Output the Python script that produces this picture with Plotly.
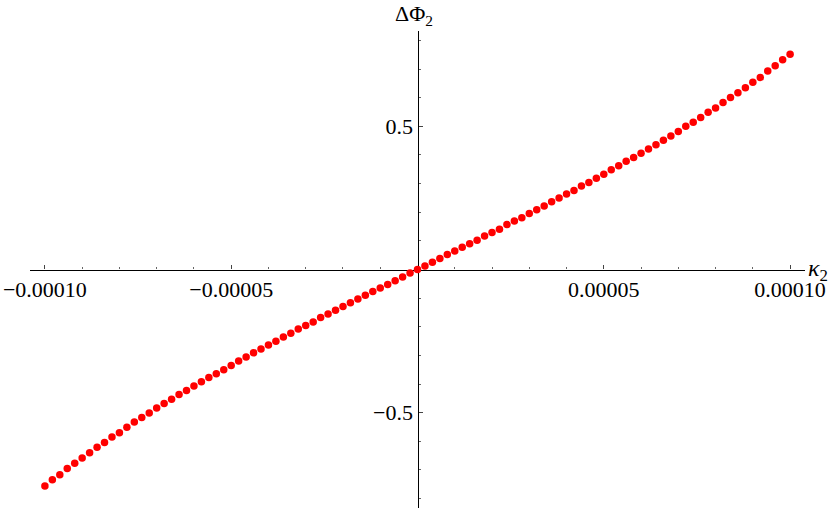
import plotly.graph_objects as go

# kappa_2 sample values in units of 1e-6
kappa_micro = [-100, -98, -96, -94, -92, -90, -88, -86, -84, -82,
               -80, -78, -76, -74, -72, -70, -68, -66, -64, -62,
               -60, -58, -56, -54, -52, -50, -48, -46, -44, -42,
               -40, -38, -36, -34, -32, -30, -28, -26, -24, -22,
               -20, -18, -16, -14, -12, -10, -8, -6, -4, -2,
               0, 2, 4, 6, 8, 10, 12, 14, 16, 18,
               20, 22, 24, 26, 28, 30, 32, 34, 36, 38,
               40, 42, 44, 46, 48, 50, 52, 54, 56, 58,
               60, 62, 64, 66, 68, 70, 72, 74, 76, 78,
               80, 82, 84, 86, 88, 90, 92, 94, 96, 98, 100]
kappa2 = [k * 1e-6 for k in kappa_micro]

delta_phi2 = [-0.756, -0.734, -0.717, -0.695, -0.677, -0.658, -0.640, -0.621, -0.604, -0.585,
              -0.570, -0.551, -0.533, -0.517, -0.501, -0.484, -0.468, -0.453, -0.437, -0.423,
              -0.407, -0.392, -0.377, -0.364, -0.350, -0.335, -0.320, -0.306, -0.291, -0.278,
              -0.264, -0.251, -0.236, -0.223, -0.208, -0.196, -0.183, -0.168, -0.155, -0.142,
              -0.129, -0.116, -0.103, -0.090, -0.077, -0.065, -0.052, -0.039, -0.026, -0.012,
              0.000, 0.012, 0.025, 0.038, 0.052, 0.065, 0.078, 0.090, 0.102, 0.117,
              0.129, 0.141, 0.157, 0.169, 0.181, 0.196, 0.209, 0.222, 0.237, 0.250,
              0.264, 0.276, 0.292, 0.304, 0.319, 0.333, 0.348, 0.362, 0.378, 0.391,
              0.406, 0.421, 0.436, 0.451, 0.466, 0.482, 0.500, 0.514, 0.531, 0.549,
              0.564, 0.583, 0.601, 0.617, 0.635, 0.654, 0.671, 0.693, 0.712, 0.733, 0.752]

x_tickvals = [-0.0001, -0.00005, 0.00005, 0.0001]
x_ticktext = ["\u22120.00010", "\u22120.00005", "0.00005", "0.00010"]
y_tickvals = [-0.5, 0.5]
y_ticktext = ["\u22120.5", "0.5"]

FONT = "Liberation Serif, Times New Roman, serif"
FS = 22

fig = go.Figure()
fig.add_trace(go.Scatter(
    x=kappa2, y=delta_phi2, mode="markers",
    marker=dict(color="#ff0000", size=7.5, line=dict(width=0)),
    showlegend=False, hoverinfo="skip", cliponaxis=False,
))

fig.update_layout(
    width=830, height=512,
    margin=dict(l=30, r=25, t=31, b=4, autoexpand=False),
    paper_bgcolor="white", plot_bgcolor="white",
    font=dict(family=FONT, size=FS, color="black"),
    xaxis=dict(
        range=[-1.04e-4, 1.04e-4], automargin=False,
        anchor="free", position=0.5, side="bottom",
        showline=True, linecolor="black", linewidth=1.2,
        showgrid=False, zeroline=False,
        ticks="inside", ticklen=4, tickwidth=1, tickcolor="#444",
        tickvals=x_tickvals, ticktext=x_ticktext,
        minor=dict(ticks="inside", ticklen=2.5, tickwidth=1, tickcolor="#666",
                   dtick=1e-5, tick0=0, showgrid=False),
        tickfont=dict(family=FONT, size=FS, color="black"),
        layer="below traces",
    ),
    yaxis=dict(
        range=[-0.833, 0.833], automargin=False,
        anchor="free", position=0.5, side="left",
        showline=True, linecolor="black", linewidth=1.2,
        showgrid=False, zeroline=False,
        ticks="inside", ticklen=4, tickwidth=1, tickcolor="#444",
        tickvals=y_tickvals, ticktext=y_ticktext,
        minor=dict(ticks="inside", ticklen=2.5, tickwidth=1, tickcolor="#666",
                   dtick=0.1, tick0=0, showgrid=False),
        tickfont=dict(family=FONT, size=FS, color="black"),
        layer="below traces",
    ),
    annotations=[
        dict(text="\u0394\u03a6<sub>2</sub>", x=0, xref="x", y=1, yref="paper",
             xanchor="center", yanchor="bottom", showarrow=False, xshift=-4, yshift=0,
             font=dict(family=FONT, size=FS, color="black")),
        dict(text="<i>\u03ba</i><sub>2</sub>", x=1, xref="paper", y=0, yref="y",
             xanchor="left", yanchor="middle", showarrow=False, xshift=1,
             font=dict(family=FONT, size=FS + 2, color="black")),
    ],
)

fig.write_html("out.html",
               config={"displayModeBar": False},
               post_script="document.body.style.margin='0';document.body.style.overflow='hidden';")
